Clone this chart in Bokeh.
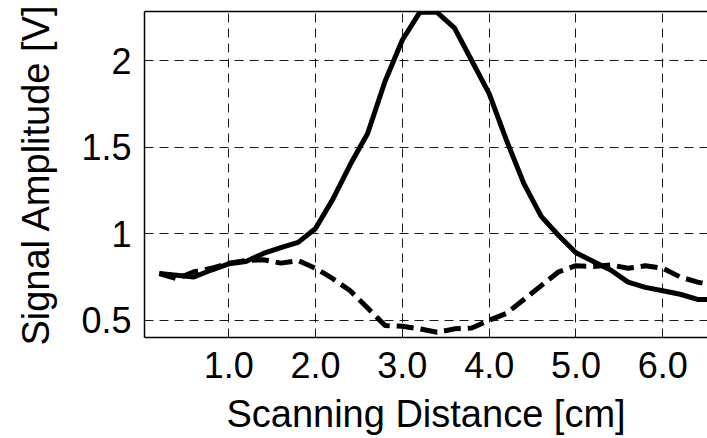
from bokeh.plotting import figure
from bokeh.models import Range1d, FixedTicker, LinearAxis
from bokeh.embed import file_html
from bokeh.resources import INLINE

# scanning positions [cm]
distance = [0.2, 0.4, 0.6, 0.8, 1.0, 1.2, 1.4, 1.6, 1.8, 2.0, 2.2, 2.4, 2.6, 2.8,
            3.0, 3.2, 3.4, 3.6, 3.8, 4.0, 4.2, 4.4, 4.6, 4.8, 5.0, 5.2, 5.4, 5.6,
            5.8, 6.0, 6.2, 6.4, 6.6]
# solid curve [V]
signal_solid = [0.77, 0.76, 0.75, 0.79, 0.826, 0.84, 0.886, 0.92, 0.95, 1.03, 1.20,
                1.40, 1.58, 1.88, 2.12, 2.28, 2.28, 2.19, 2.00, 1.81, 1.54, 1.29,
                1.10, 0.99, 0.89, 0.84, 0.79, 0.72, 0.69, 0.67, 0.65, 0.62, 0.62]
# dashed curve [V]
signal_dashed = [0.77, 0.74, 0.78, 0.80, 0.83, 0.845, 0.85, 0.83, 0.845, 0.80, 0.74,
                 0.67, 0.57, 0.47, 0.465, 0.45, 0.43, 0.45, 0.455, 0.50, 0.54, 0.62,
                 0.70, 0.78, 0.815, 0.81, 0.82, 0.80, 0.815, 0.80, 0.75, 0.72, 0.70]

x_ticks = [1, 2, 3, 4, 5, 6]
x_tick_labels = ["1.0", "2.0", "3.0", "4.0", "5.0", "6.0"]
y_ticks = [0.5, 1, 1.5, 2]
y_tick_labels = ["0.5", "1", "1.5", "2"]

FONT = "Liberation Sans"

p = figure(width=707, height=438, output_backend="svg", toolbar_location=None,
           x_range=Range1d(0.03, 6.515), y_range=Range1d(0.4, 2.285),
           min_border_left=144, min_border_right=0, min_border_top=11,
           min_border_bottom=101)
p.outline_line_color = None
p.background_fill_color = "white"
p.border_fill_color = "white"

p.line(distance, signal_solid, line_color="black", line_width=5)
p.line(distance, signal_dashed, line_color="black", line_width=5, line_dash="17 7")

for ax in (p.xaxis[0], p.yaxis[0]):
    ax.major_tick_in = 0
    ax.major_tick_out = 0
    ax.minor_tick_in = 0
    ax.minor_tick_out = 0
    ax.axis_line_color = "black"
    ax.axis_line_width = 1.5
    ax.major_label_text_font = FONT
    ax.major_label_text_font_size = "36px"
    ax.major_label_text_color = "black"
    ax.axis_label_text_font = FONT
    ax.axis_label_text_font_size = "38px"
    ax.axis_label_text_font_style = "normal"
    ax.axis_label_text_color = "black"

p.xaxis.ticker = FixedTicker(ticks=x_ticks)
p.xaxis.major_label_overrides = {t: l for t, l in zip(x_ticks, x_tick_labels)}
p.yaxis.ticker = FixedTicker(ticks=y_ticks)
p.yaxis.major_label_overrides = {t: l for t, l in zip(y_ticks, y_tick_labels)}
p.xaxis.axis_label = "Scanning Distance [cm]"
p.yaxis.axis_label = "Signal Amplitude [V]"
p.xaxis.major_label_standoff = 14
p.yaxis.major_label_standoff = 13
p.xaxis.axis_label_standoff = 12
p.yaxis.axis_label_standoff = 21

top = LinearAxis(ticker=FixedTicker(ticks=[]), major_tick_out=0, major_tick_in=0,
                 minor_tick_out=0, minor_tick_in=0, major_label_standoff=0,
                 axis_line_color="black", axis_line_width=1.5)
p.add_layout(top, "above")

p.xgrid.ticker = FixedTicker(ticks=x_ticks)
p.ygrid.ticker = FixedTicker(ticks=y_ticks)
for g in (p.xgrid[0], p.ygrid[0]):
    g.grid_line_color = "black"
    g.grid_line_width = 1
    g.grid_line_dash = "9 6"
    g.grid_line_alpha = 0.9

open("out.html", "w").write(file_html(p, INLINE))
